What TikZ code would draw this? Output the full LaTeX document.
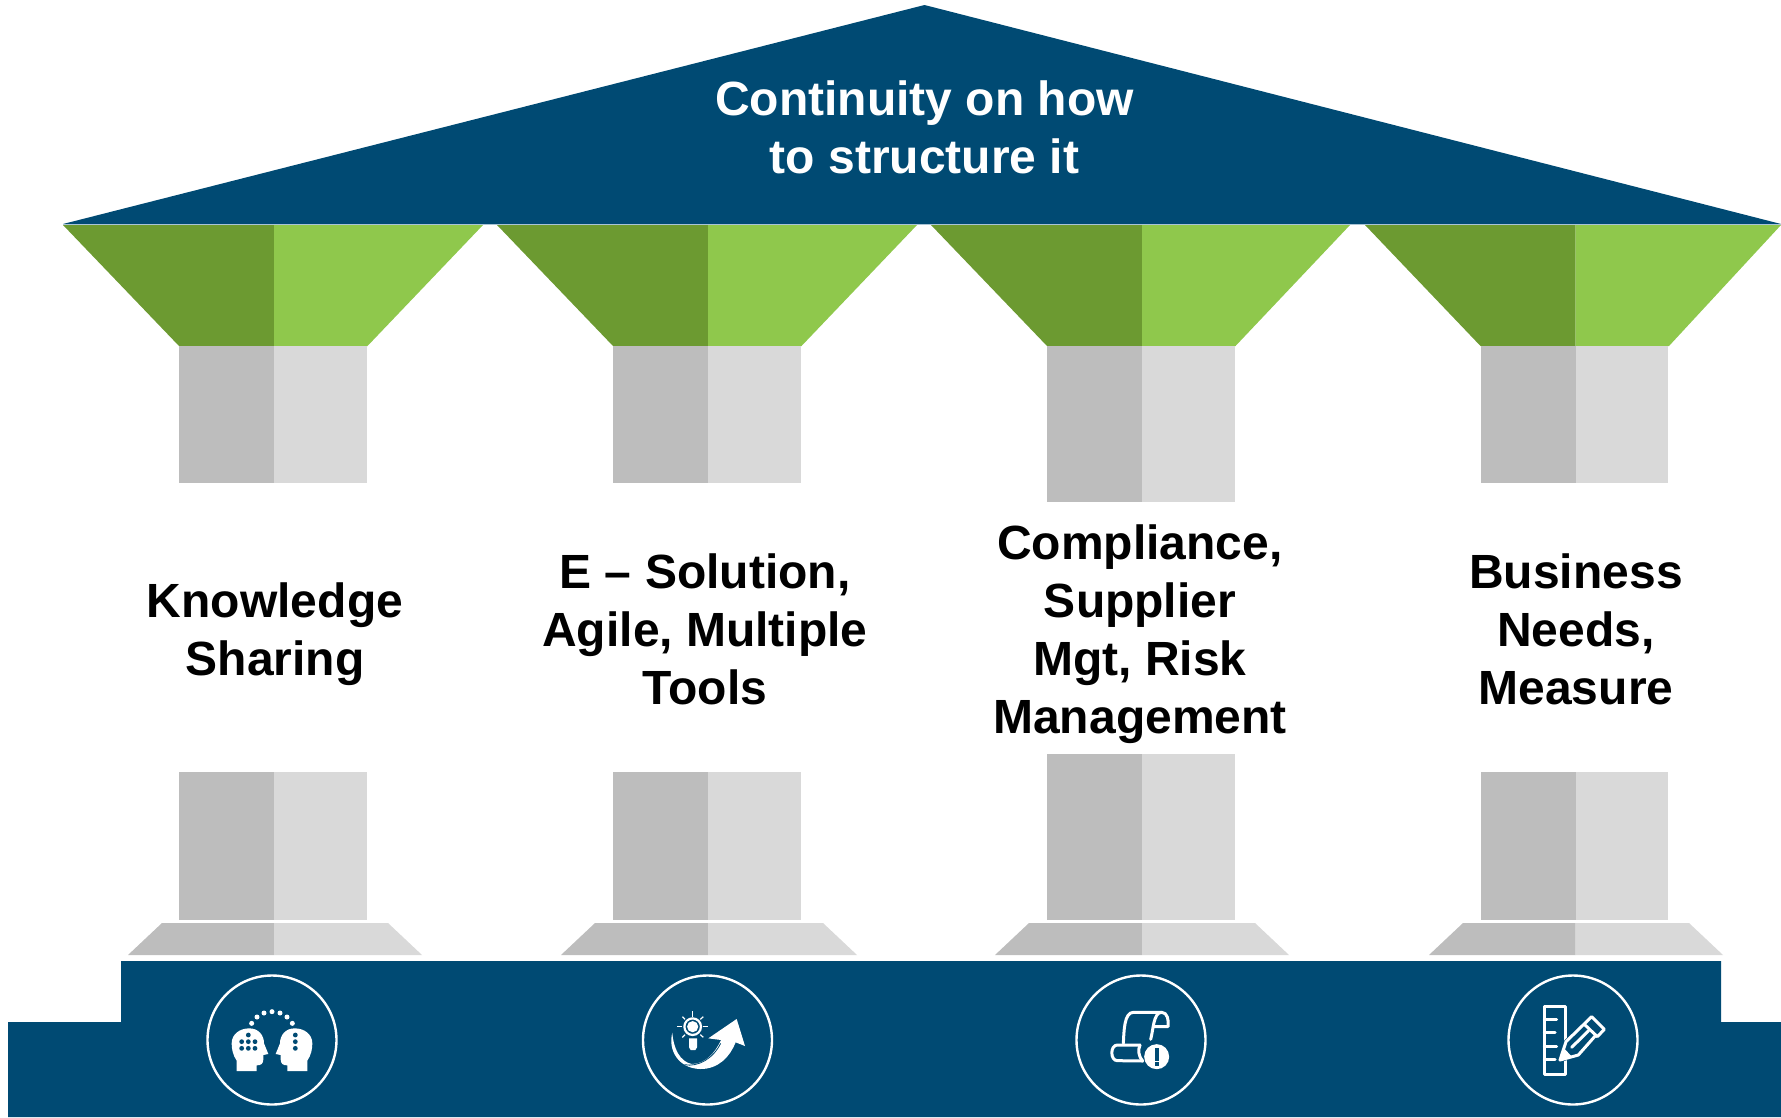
\documentclass[tikz,border=0pt]{standalone}
\usepackage{fontspec}
\setmainfont{Liberation Sans}
\definecolor{navy}{HTML}{004A73}
\definecolor{greenD}{HTML}{6C9A31}
\definecolor{greenL}{HTML}{8FC84C}
\definecolor{grayD}{HTML}{BDBDBD}
\definecolor{grayL}{HTML}{D9D9D9}
\definecolor{roofline}{HTML}{A9C4D6}
\tikzset{
  blabel/.style={font=\fontsize{48}{57.8}\selectfont\bfseries,align=center,text=black,inner sep=0pt},
  wlabel/.style={blabel,text=white},
  ring/.style={draw=white,line width=2.4pt,fill=none},
  iconline/.style={draw=white,line width=3pt,line cap=round,line join=round,fill=none},
  icondot/.style={fill=navy,draw=none},
}
\newcommand{\headshape}{(140,333) -- (140,302) .. controls (128,285) and (125,265) .. (125,250) .. controls (125,222) and (150,205) .. (178,205) .. controls (205,205) and (222,225) .. (222,250) -- (235,282) -- (220,285) -- (220,298) .. controls (220,312) and (212,316) .. (200,316) -- (200,333) -- cycle}
\begin{document}
\begin{tikzpicture}[x=1pt,y=-1pt]
\useasboundingbox (0,0) rectangle (1781,1117);
% roof
\fill[navy] (924.5,5) -- (1781,224) -- (63,224) -- cycle;
\draw[roofline,line width=1pt] (63,224.5) -- (1781,224.5);
% pillars
\foreach \m/\cl/\cr/\ub/\lt/\pl/\pr in {
  274/63/483/483/772/128/422,
  708/497/917/483/772/561/857,
  1142/931/1350/502/754/995/1289,
  1575.5/1365/1781/483/772/1429/1723}{
  \pgfmathsetmacro{\sl}{\m-95}
  \pgfmathsetmacro{\sr}{\m+92.5}
  \pgfmathsetmacro{\gr}{\m+93.5}
  \pgfmathsetmacro{\tl}{\pl+34}
  \pgfmathsetmacro{\tr}{\pr-34}
  \fill[greenD] (\cl,225) -- (\m,225) -- (\m,346) -- (\sl,346) -- cycle;
  \fill[greenL] (\m,225) -- (\cr,225) -- (\gr,346) -- (\m,346) -- cycle;
  \fill[grayD] (\sl,346) rectangle (\m,\ub);
  \fill[grayL] (\m,346) rectangle (\sr,\ub);
  \fill[grayD] (\sl,\lt) rectangle (\m,920);
  \fill[grayL] (\m,\lt) rectangle (\sr,920);
  \fill[grayD] (\tl,923) -- (\m,923) -- (\m,955) -- (\pl,955) -- cycle;
  \fill[grayL] (\m,923) -- (\tr,923) -- (\pr,955) -- (\m,955) -- cycle;
}
% base
\fill[navy] (8,1117) -- (8,1022) -- (121,1022) -- (121,961) -- (1721,961) -- (1721,1022) -- (1781,1022) -- (1781,1117) -- cycle;
% texts
\node[wlabel] (title) at (924.5,127.5) {Continuity on how\\to structure it};
\node[blabel] (k) at (275,634) {Knowledge\\Sharing};
\node[blabel] (e) at (705,629.5) {E -- Solution,\\Agile, Multiple\\Tools};
\node[blabel] (c) at (1140,634.3) {Compliance,\\Supplier\\Mgt, Risk\\Management};
\node[blabel] (b) at (1576,629.5) {Business\\Needs,\\Measure};
% rings
\draw[ring] (272,1040) circle (64.5);
\draw[ring] (707.5,1040) circle (64.5);
\draw[ring] (1141,1040) circle (64.5);
\draw[ring] (1573,1040) circle (64.5);
% icon 1
\begin{scope}[shift={(190,960)},x=0.33333pt,y=-0.33333pt]
  \fill[white] \headshape;
  \begin{scope}[shift={(492,0)},xscale=-1]
    \fill[white] \headshape;
  \end{scope}
  \foreach \a/\b in {175/225,155/245,175/245,195/245,155/265,175/265,195/265,316/225,316/245,316/265}
    \fill[icondot] (\a,\b) circle (2.4pt);
  \foreach \a/\b in {185/190,201/171,222/159,246/155,270/159,291/171,307/190}
    \fill[white] (\a,\b) circle (2.5pt);
\end{scope}
% icon 2
\begin{scope}[shift={(625,960)},x=0.33333pt,y=-0.33333pt]
  \fill[white] (142,218) .. controls (128,270) and (160,325) .. (225,327) .. controls (280,328) and (315,290) .. (332,247) -- (360,258) -- (335,177) -- (250,235) -- (288,240) .. controls (270,280) and (240,312) .. (200,312) .. controls (165,305) and (145,265) .. (142,218) -- cycle;
  \draw[navy,line width=0.8pt] (287,250) .. controls (265,295) and (220,322) .. (178,314);
  \draw[white,line width=2.2pt] (203,200) circle (8.3pt);
  \fill[white] (203,200) circle (5.6pt);
  \foreach \a/\b/\c/\d in {203/153/203/170,156/199/172/199,233/199/249/199,172/170/180/178,235/170/226/178,172/232/180/224,235/232/226/224}
    \draw[white,line width=1.2pt] (\a,\b) -- (\c,\d);
  \fill[white] (192,235) -- (216,235) -- (216,262) -- (211,270) -- (197,270) -- (192,262) -- cycle;
\end{scope}
% icon 3
\begin{scope}[shift={(1060,960)},x=0.33333pt,y=-0.33333pt]
  \draw[iconline] (190,250) .. controls (192,215) and (192,157) .. (220,157) -- (305,157) .. controls (322,157) and (327,180) .. (324,200) -- (283,200);
  \draw[iconline] (272,238) .. controls (280,210) and (280,157) .. (305,157);
  \draw[iconline] (240,255) -- (172,255) .. controls (150,255) and (150,302) .. (172,302) -- (248,303);
  \draw[iconline] (240,255) .. controls (233,270) and (236,290) .. (248,303);
  \fill[white] (290,290) circle (12.5pt);
  \fill[navy] (285,265) rectangle (297,302);
  \fill[navy] (285,307) rectangle (297,317);
\end{scope}
% icon 4
\begin{scope}[shift={(1490,960)},x=0.33333pt,y=-0.33333pt]
  \draw[iconline] (163,138) rectangle (227,343);
  \foreach \b/\c in {178/200,218/195,260/200,298/195}
    \draw[iconline] (163,\b) -- (\c,\b);
  \draw[navy,line width=4pt,line join=round] (210,300) -- (228,245) -- (305,170) -- (343,208) -- (265,285) -- cycle;
  \fill[navy] (210,300) -- (228,245) -- (305,170) -- (343,208) -- (265,285) -- cycle;
  \draw[iconline] (210,300) -- (228,245) -- (305,170) -- (343,208) -- (322,230) -- (282,192);
  \draw[iconline] (318,225) -- (265,285) -- (210,300);
  \draw[iconline] (245,262) -- (296,212);
  \fill[white] (210,300) -- (221,264) -- (246,290) -- cycle;
\end{scope}
\end{tikzpicture}
\end{document}
